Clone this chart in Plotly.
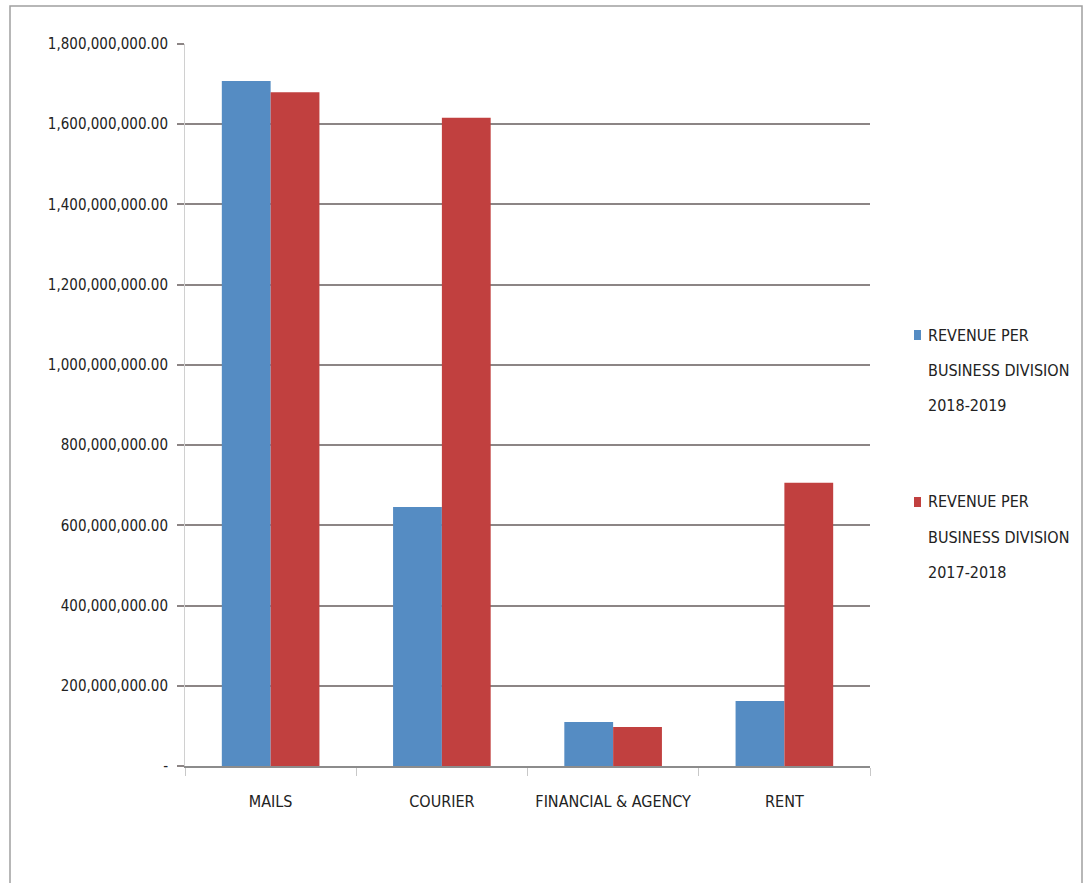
import plotly.graph_objects as go

divisions = ["MAILS", "COURIER", "FINANCIAL & AGENCY", "RENT"]
revenue_2018_2019 = [1_708_000_000, 646_000_000, 110_000_000, 162_000_000]
revenue_2017_2018 = [1_680_000_000, 1_616_000_000, 97_000_000, 706_000_000]
series_names = ["REVENUE PER<br>BUSINESS DIVISION<br>2018-2019",
                "REVENUE PER<br>BUSINESS DIVISION<br>2017-2018"]
y_ticks = [0, 200_000_000, 400_000_000, 600_000_000, 800_000_000,
           1_000_000_000, 1_200_000_000, 1_400_000_000, 1_600_000_000, 1_800_000_000]
y_tick_labels = ["-"] + [f"{v:,.2f}" for v in y_ticks[1:]]

BLUE = "#558cc3"
RED = "#c1403f"
FONT = "DejaVu Sans Condensed, DejaVu Sans, sans-serif"
FS = 15

W, H = 1086, 883
L, R, T, B = 185, 216, 44, 117
pw, ph = W - L - R, H - T - B


def px(x):
    return (x - L) / pw


def py(y):
    return (H - B - y) / ph


fig = go.Figure()
fig.add_trace(go.Bar(x=divisions, y=revenue_2018_2019, name=series_names[0],
                     marker=dict(color=BLUE, line=dict(width=0)), showlegend=False))
fig.add_trace(go.Bar(x=divisions, y=revenue_2017_2018, name=series_names[1],
                     marker=dict(color=RED, line=dict(width=0)), showlegend=False))

# legend drawn as swatches plus one text line per row
legend_rows = [
    (BLUE, 335, ["REVENUE PER", "BUSINESS DIVISION", "2018-2019"]),
    (RED, 502, ["REVENUE PER", "BUSINESS DIVISION", "2017-2018"]),
]
shapes = []
annotations = []
for color, y0, lines in legend_rows:
    shapes.append(dict(type="rect", xref="paper", yref="paper",
                       x0=px(914), x1=px(921), y0=py(y0 - 5), y1=py(y0 + 5),
                       fillcolor=color, line=dict(width=0)))
    for i, text in enumerate(lines):
        annotations.append(dict(text=text, xref="paper", yref="paper",
                                x=px(926), y=py(y0 + i * 35), xanchor="left",
                                yanchor="middle", showarrow=False,
                                font=dict(family=FONT, size=16, color="#222")))

# outer chart frame
shapes.append(dict(type="rect", xref="paper", yref="paper",
                   x0=px(10), x1=px(1082), y0=py(900), y1=py(6),
                   line=dict(color="#a0a0a0", width=1.5), fillcolor="rgba(0,0,0,0)",
                   layer="below"))

fig.update_layout(
    width=W, height=H,
    margin=dict(l=L, r=R, t=T, b=B, pad=0),
    paper_bgcolor="white", plot_bgcolor="white",
    barmode="group", bargap=0.43, bargroupgap=0,
    font=dict(family=FONT, size=FS, color="#222"),
    shapes=shapes, annotations=annotations,
    xaxis=dict(showline=True, linecolor="#8c8c8c", linewidth=2,
               ticks="outside", tickson="boundaries", ticklen=8,
               tickcolor="#c8c8c8", tickwidth=1, tickangle=0,
               automargin=False, ticklabelstandoff=20,
               tickfont=dict(family=FONT, size=16, color="#222"),
               showgrid=False),
    yaxis=dict(range=[0, 1_800_000_000], tickvals=y_ticks, ticktext=y_tick_labels,
               showgrid=True, gridcolor="#8c8585", gridwidth=2,
               showline=True, linecolor="#d0d0d0", linewidth=1,
               ticks="outside", ticklen=7, tickcolor="#8c8585", tickwidth=2,
               zeroline=False, automargin=False, ticklabelstandoff=6,
               tickfont=dict(family=FONT, size=FS, color="#222")),
)

fig.write_html("out.html")
